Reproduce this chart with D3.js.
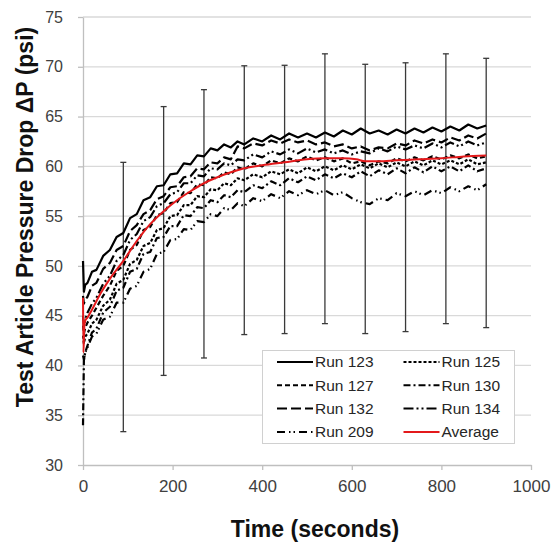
<!DOCTYPE html>
<html><head><meta charset="utf-8">
<script src="https://cdn.jsdelivr.net/npm/d3@7"></script>
<style>
html,body{margin:0;padding:0;background:#fff;}
text{font-family:"Liberation Sans",Arial,sans-serif;}
</style></head>
<body><div id="chart"></div>
<script>
// ---------- data ----------
const times = [0,2,5,10,20,30,45,60,75,90,105,120,135,150,165,180,195,210,225,240,255,270,285,300,315,330,345,360,380,400,420,440,460,480,500,520,540,560,580,600,620,640,660,680,700,720,740,760,780,800,820,840,860,880,900];
const run123 = [50.5,47.4,48.1,48.3,49.4,49.6,51.0,51.6,52.9,53.3,54.8,55.2,56.6,56.9,58.0,58.1,59.2,59.3,60.3,60.2,61.1,61.0,61.8,61.6,62.2,61.9,62.5,62.2,62.8,62.5,63.1,62.7,63.3,62.9,63.3,62.9,63.4,63.0,63.6,63.2,63.8,63.3,63.6,63.2,63.7,63.3,63.8,63.4,63.9,63.5,64.0,63.6,64.2,63.8,64.1];
const run125 = [43.0,42.2,42.9,43.2,44.2,44.6,46.0,46.6,48.2,48.6,50.2,50.6,52.0,52.3,53.6,53.8,55.0,55.1,56.1,56.1,57.0,56.9,57.7,57.6,58.3,58.1,58.8,58.6,59.2,58.9,59.5,59.2,59.7,59.3,59.9,59.5,60.0,59.6,60.1,59.7,60.2,59.8,60.3,59.9,60.4,60.0,60.5,60.1,60.6,60.2,60.6,60.2,60.7,60.2,60.4];
const run127 = [44.0,43.2,43.8,44.3,45.0,45.8,47.0,48.0,49.5,50.0,51.6,52.1,53.6,53.9,55.1,55.3,56.3,56.4,57.4,57.3,58.2,58.1,58.9,58.8,59.4,59.2,59.9,59.7,60.3,60.0,60.6,60.3,60.8,60.5,61.0,60.6,60.9,60.5,60.8,60.3,60.5,60.1,60.5,60.3,60.8,60.5,60.9,60.6,61.0,60.7,61.1,60.8,61.2,60.8,61.0];
const run130 = [34.0,40.5,41.3,42.0,43.3,43.7,45.3,45.9,47.5,47.8,49.4,49.7,51.2,51.4,52.8,52.9,54.0,54.0,55.1,55.0,55.9,55.8,56.6,56.4,57.1,56.9,57.6,57.4,58.1,57.8,58.5,58.1,58.8,58.4,59.0,58.6,59.2,58.8,59.3,58.9,59.5,59.0,59.6,59.2,59.8,59.3,59.9,59.4,60.0,59.5,60.0,59.5,60.1,59.5,59.8];
const run132 = [47.0,46.2,46.6,46.9,48.0,48.3,49.7,50.3,51.6,52.0,53.5,54.1,55.2,55.6,56.7,57.0,57.9,58.0,58.9,59.0,59.8,59.7,60.4,60.3,60.9,60.7,62.0,61.8,62.3,62.1,62.6,62.3,62.7,62.4,62.6,62.2,62.4,62.0,62.2,61.8,62.0,61.6,61.9,61.8,62.3,62.1,62.6,62.3,62.7,62.4,62.9,62.6,63.1,62.8,63.3];
const run134 = [45.0,44.0,44.6,45.3,46.2,46.8,48.2,49.0,50.5,51.1,52.6,53.2,54.5,54.9,56.0,56.3,57.2,57.4,58.3,58.3,59.1,59.0,59.8,59.7,60.3,60.1,60.7,60.6,61.2,60.9,61.5,61.2,61.7,61.3,61.8,61.4,61.7,61.3,61.6,61.2,61.5,61.3,61.8,61.5,62.0,61.7,62.1,61.8,62.3,61.9,62.4,62.0,62.5,62.1,62.4];
const run209 = [41.0,40.6,41.3,41.8,42.9,43.2,44.6,44.9,46.3,46.3,47.7,48.0,49.4,49.7,51.2,51.4,52.6,52.7,53.7,53.6,54.5,54.4,55.2,55.0,55.8,55.6,56.3,56.0,56.8,56.5,57.2,56.8,57.5,57.1,57.6,57.2,57.6,57.1,57.4,56.8,56.4,56.2,56.8,56.6,57.3,57.0,57.5,57.1,57.6,57.3,57.9,57.5,58.0,57.6,58.2];
const avgTimes = [0,1,3,5,10,20,40,60,90,120,150,180,210,240,270,300,330,360,400,450,500,540,580,610,630,660,700,750,800,850,900];
const avgValues = [46.8,41.3,44.0,44.5,44.8,45.6,47.3,48.7,50.5,52.5,54.2,55.5,56.6,57.5,58.3,58.9,59.4,59.8,60.1,60.4,60.7,60.8,60.8,60.7,60.5,60.5,60.6,60.7,60.8,61.0,61.1];
const errTimes = [90,180,270,360,450,540,630,720,810,900];
const errLow  = [33.35,39.0,40.75,43.1,43.2,44.2,43.2,43.4,44.2,43.8];
const errHigh = [60.4,66.0,67.7,70.1,70.15,71.3,70.25,70.4,71.3,70.85];
const xTicks = [0,200,400,600,800,1000];
const yTicks = [30,35,40,45,50,55,60,65,70,75];
const seriesNames = ["Run 123","Run 125","Run 127","Run 130","Run 132","Run 134","Run 209","Average"];
const runValues = [run123,run125,run127,run130,run132,run134,run209];

// ---------- styles ----------
const dashes = {
  "Run 123": null,
  "Run 125": "3,2",
  "Run 127": "5,3",
  "Run 130": "7,3,2,3",
  "Run 132": "10,4",
  "Run 134": "10,3,2,3,2,3",
  "Run 209": "8,4,1.5,3,1.5,4",
  "Average": null
};

const W = 555, H = 548;
const svg = d3.select("#chart").append("svg").attr("width", W).attr("height", H);
const x = d3.scaleLinear().domain([0,1000]).range([83,531]);
const y = d3.scaleLinear().domain([30,75]).range([465,17]);

// gridlines
svg.append("g").selectAll("line").data(yTicks.filter(d=>d>30)).join("line")
  .attr("x1", x(0)).attr("x2", x(1000))
  .attr("y1", d=>y(d)).attr("y2", d=>y(d))
  .attr("stroke", "#d9d9d9").attr("stroke-width", 1.3);

// axes
const xAxis = svg.append("g").attr("transform", `translate(0,${y(30)})`)
  .call(d3.axisBottom(x).tickValues(xTicks).tickFormat(d3.format("d")).tickSize(5).tickSizeOuter(0).tickPadding(10));
const yAxis = svg.append("g").attr("transform", `translate(${x(0)},0)`)
  .call(d3.axisLeft(y).tickValues(yTicks).tickFormat(d3.format("d")).tickSize(5).tickSizeOuter(0).tickPadding(15));
[xAxis, yAxis].forEach(a => {
  a.select(".domain").attr("stroke", "#bfbfbf").attr("stroke-width", 1.3);
  a.selectAll(".tick line").attr("stroke", "#bfbfbf").attr("stroke-width", 1.3);
  a.selectAll(".tick text").attr("fill", "#404040")
    .style("font-family", '"Liberation Sans",Arial,sans-serif');
});
xAxis.selectAll(".tick text").style("font-size", "17px");
yAxis.selectAll(".tick text").style("font-size", "16px");

// error bars
const eb = svg.append("g").attr("stroke", "#3a3a3a").attr("stroke-width", 1.3);
errTimes.forEach((t,i) => {
  eb.append("line").attr("x1", x(t)).attr("x2", x(t)).attr("y1", y(errLow[i])).attr("y2", y(errHigh[i]));
  eb.append("line").attr("x1", x(t)-3).attr("x2", x(t)+3).attr("y1", y(errLow[i])).attr("y2", y(errLow[i]));
  eb.append("line").attr("x1", x(t)-3).attr("x2", x(t)+3).attr("y1", y(errHigh[i])).attr("y2", y(errHigh[i]));
});

// runs
const line = d3.line().x(d=>x(d[0])).y(d=>y(d[1]));
runValues.forEach((vals, i) => {
  const name = seriesNames[i];
  svg.append("path").datum(times.map((t,j)=>[t, vals[j]]))
    .attr("d", line).attr("fill", "none").attr("stroke", "#000")
    .attr("stroke-width", 2.2).attr("stroke-linejoin", "round")
    .attr("stroke-dasharray", dashes[name]);
});
// average
svg.append("path").datum(avgTimes.map((t,j)=>[t, avgValues[j]]))
  .attr("d", d3.line().x(d=>x(d[0])).y(d=>y(d[1])).curve(d3.curveMonotoneX))
  .attr("fill", "none").attr("stroke", "#e3191b").attr("stroke-width", 2);

// legend
const lg = svg.append("g");
lg.append("rect").attr("x", 262.5).attr("y", 350.5).attr("width", 252).attr("height", 93)
  .attr("fill", "#fff").attr("stroke", "#d0d0d0").attr("stroke-width", 1);
seriesNames.forEach((name, i) => {
  const col = i % 2, row = Math.floor(i / 2);
  const lx = col === 0 ? 277 : 403.5;
  const ly = 362 + row * 23.3;
  lg.append("line").attr("x1", lx).attr("x2", lx + 36).attr("y1", ly).attr("y2", ly)
    .attr("stroke", name === "Average" ? "#e3191b" : "#000")
    .attr("stroke-width", name === "Average" ? 2 : 2)
    .attr("stroke-dasharray", dashes[name]);
  lg.append("text").attr("x", lx + 38).attr("y", ly).attr("dy", "0.35em")
    .attr("font-size", "15.5px").attr("fill", "#262626").text(name);
});

// axis titles
svg.append("text").attr("x", 315).attr("y", 529).attr("dy", "0.35em")
  .attr("text-anchor", "middle").attr("font-size", "23px").attr("font-weight", "bold")
  .attr("fill", "#111").text("Time (seconds)");
svg.append("text").attr("transform", "translate(25,217) rotate(-90)").attr("dy", "0.35em")
  .attr("text-anchor", "middle").attr("font-size", "23px").attr("font-weight", "bold")
  .attr("fill", "#111").text("Test Article Pressure Drop ΔP (psi)");
</script>
</body></html>
